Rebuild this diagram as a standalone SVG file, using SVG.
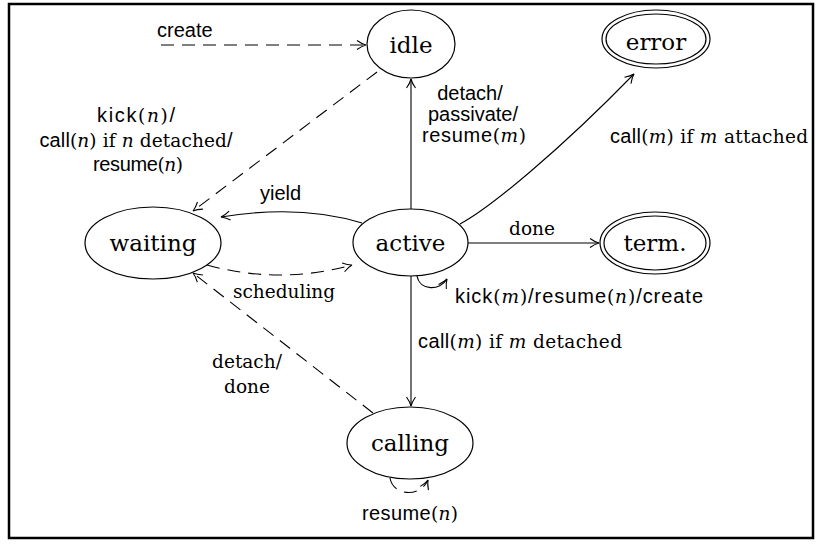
<svg xmlns="http://www.w3.org/2000/svg" width="821" height="545" viewBox="0 0 821 545">
<style>
.node{fill:none;stroke:#000;stroke-width:1.2}
.nt{font-family:"DejaVu Serif",serif;font-size:23px;text-anchor:middle;fill:#000}
.edge{fill:none;stroke:#000;stroke-width:1.1;marker-end:url(#arr)}
.dash{stroke-dasharray:13 8}
.lbl{font-family:"Liberation Sans",Arial,sans-serif;font-size:20px;fill:#000}
.sr{font-family:"DejaVu Serif",serif;font-size:18.5px}
.mi{font-family:"DejaVu Serif",serif;font-size:18.5px;font-style:italic}
.mid{text-anchor:middle}
</style>
<defs>
<marker id="arr" markerUnits="userSpaceOnUse" markerWidth="12" markerHeight="12" viewBox="0 0 12 12" refX="10" refY="6" orient="auto">
<path d="M1,1.5 Q6,5 10,6 Q6,7 1,10.5" fill="none" stroke="#000" stroke-width="1.1" stroke-dasharray="none"/>
</marker>
</defs>
<rect x="9" y="4" width="804" height="534" fill="#fff" stroke="#000" stroke-width="2.5"/>

<g id="connectors">
<path class="edge dash" d="M161,45 L366,45"/>
<path class="edge dash" d="M377,72 L193,211"/>
<path class="edge" d="M362,223 Q300,204 221,217"/>
<path class="edge" d="M411,209 L411,79"/>
<path class="edge" d="M460,224 C490,208 560,150 634,74"/>
<path class="edge" d="M468,243 L599,243"/>
<path class="edge" d="M417,276 C420,291 440,291 447,279"/>
<path class="edge" d="M411,276 L411,406"/>
<path class="edge dash" d="M373,413 L193,273"/>
<path class="edge dash" d="M207,265 Q280,285 352,265"/>
<path class="edge dash" d="M390,478 C393,496 420,498 428,480"/>
</g>

<g id="labels">
<text class="lbl" x="157" y="37">create</text>
<text class="lbl mid" x="136" y="122" textLength="78">kick<tspan class="sr">(</tspan><tspan class="mi">n</tspan><tspan class="sr">)</tspan>/</text>
<text class="lbl mid" x="136" y="147" textLength="193">call<tspan class="sr">(</tspan><tspan class="mi">n</tspan><tspan class="sr">) if </tspan><tspan class="mi">n</tspan><tspan class="sr"> detached</tspan>/</text>
<text class="lbl mid" x="138" y="171" textLength="90">resume<tspan class="sr">(</tspan><tspan class="mi">n</tspan><tspan class="sr">)</tspan></text>
<text class="lbl mid" x="470" y="100">detach/</text>
<text class="lbl mid" x="473" y="121">passivate/</text>
<text class="lbl mid" x="474" y="142" textLength="104">resume<tspan class="sr">(</tspan><tspan class="mi">m</tspan><tspan class="sr">)</tspan></text>
<text class="lbl" x="610" y="143" textLength="198">call<tspan class="sr">(</tspan><tspan class="mi">m</tspan><tspan class="sr">) if </tspan><tspan class="mi">m</tspan><tspan class="sr"> attached</tspan></text>
<text class="lbl" x="260" y="200">yield</text>
<text class="sr mid" x="532" y="235">done</text>
<text class="lbl" x="455" y="303" textLength="248">kick<tspan class="sr">(</tspan><tspan class="mi">m</tspan><tspan class="sr">)</tspan>/resume<tspan class="sr">(</tspan><tspan class="mi">n</tspan><tspan class="sr">)</tspan>/create</text>
<text class="lbl" x="418" y="348" textLength="204">call<tspan class="sr">(</tspan><tspan class="mi">m</tspan><tspan class="sr">) if </tspan><tspan class="mi">m</tspan><tspan class="sr"> detached</tspan></text>
<text class="sr" x="233" y="298">scheduling</text>
<text class="sr mid" x="247" y="368">detach/</text>
<text class="sr mid" x="247" y="393">done</text>
<text class="lbl mid" x="410" y="520" textLength="96">resume<tspan class="sr">(</tspan><tspan class="mi">n</tspan><tspan class="sr">)</tspan></text>
</g>

<g id="idle"><ellipse class="node" cx="411" cy="44" rx="44" ry="34"/><text class="nt" x="411" y="53">idle</text></g>
<g id="error"><ellipse class="node" cx="656" cy="39" rx="54" ry="29"/><ellipse class="node" cx="656" cy="39" rx="50" ry="25"/><text class="nt" x="656" y="50">error</text></g>
<g id="waiting"><ellipse class="node" cx="153" cy="243" rx="68" ry="36"/><text class="nt" x="153" y="251">waiting</text></g>
<g id="active"><ellipse class="node" cx="410.5" cy="242.5" rx="57.5" ry="33.5"/><text class="nt" x="410.5" y="251">active</text></g>
<g id="term"><ellipse class="node" cx="655" cy="243" rx="55" ry="31"/><ellipse class="node" cx="655" cy="243" rx="51" ry="27"/><text class="nt" x="655" y="251">term.</text></g>
<g id="calling"><ellipse class="node" cx="410" cy="443" rx="63" ry="36"/><text class="nt" x="410" y="451">calling</text></g>
</svg>
